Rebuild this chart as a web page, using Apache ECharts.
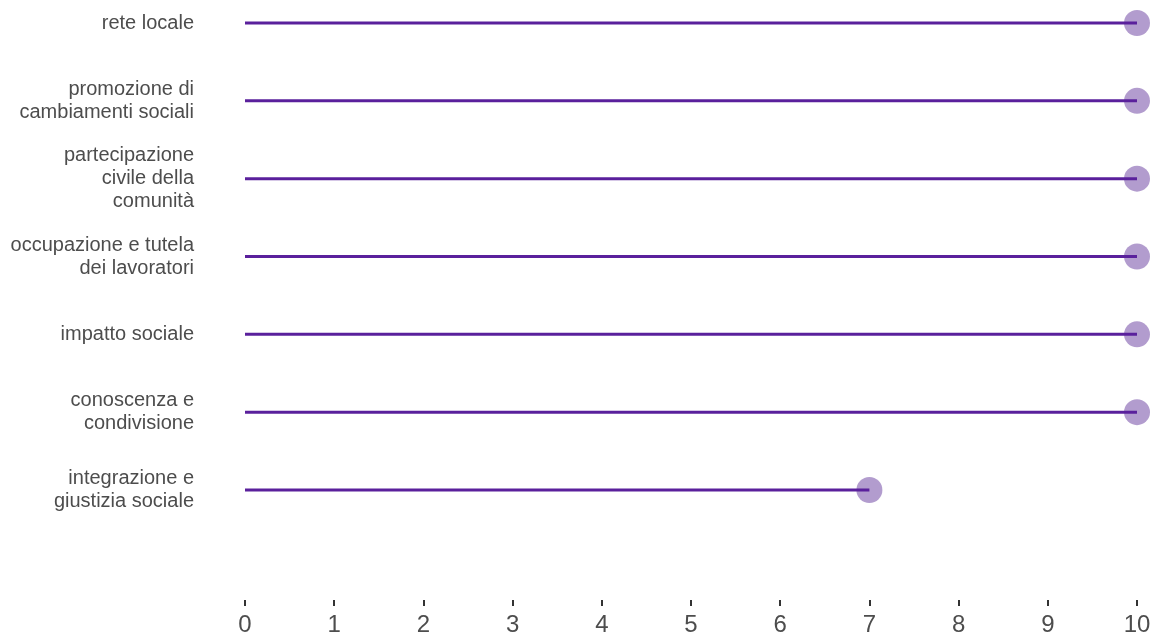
<!DOCTYPE html>
<html>
<head>
<meta charset="utf-8">
<script src="https://cdn.jsdelivr.net/npm/echarts@6/dist/echarts.min.js"></script>
<style>
	html, body { margin: 0; padding: 0; background: #fff; }
	#chart { width: 1154px; height: 633px; }
</style>
</head>
<body>
<div id="chart"></div>
<script>
	// categories, top to bottom
	var categories = [
		'rete locale',
		'promozione di\ncambiamenti sociali',
		'partecipazione\ncivile della\ncomunità',
		'occupazione e tutela\ndei lavoratori',
		'impatto sociale',
		'conoscenza e\ncondivisione',
		'integrazione e\ngiustizia sociale'
	];
	var values = [10, 10, 10, 10, 10, 10, 7];
	var xTicks = [0, 1, 2, 3, 4, 5, 6, 7, 8, 9, 10];

	var myEcharts = echarts.init(document.getElementById('chart'));
	var option = {
		animation: false,
		grid: {
			left: 245,
			right: 17,
			top: 23,
			bottom: 143,
			outerBoundsMode: 'none'
		},
		xAxis: {
			type: 'value',
			min: xTicks[0],
			max: xTicks[xTicks.length - 1],
			interval: 1,
			offset: 110,
			axisLine: { show: false },
			axisTick: {
				show: true,
				length: 6,
				lineStyle: { color: '#333', width: 2 }
			},
			axisLabel: {
				margin: 13,
				fontSize: 24,
				fontFamily: 'Liberation Sans, Arial, sans-serif',
				color: '#4d4d4d'
			},
			splitLine: { show: false }
		},
		yAxis: {
			type: 'category',
			data: categories,
			inverse: true,
			boundaryGap: false,
			axisLine: { show: false },
			axisTick: { show: false },
			splitLine: { show: false },
			axisLabel: {
				margin: 51,
				fontSize: 20,
				lineHeight: 23,
				padding: [10, 0, 0, 0],
				fontFamily: 'Liberation Sans, Arial, sans-serif',
				color: '#4d4d4d',
				align: 'right'
			}
		},
		series: [
			{
				name: 'punti',
				type: 'scatter',
				data: values,
				symbolSize: 26,
				z: 1,
				itemStyle: {
					color: 'rgba(100, 55, 155, 0.62)'
				}
			},
			{
				name: 'linee',
				type: 'bar',
				data: values,
				barWidth: 3,
				z: 2,
				itemStyle: { color: '#5a209c' }
			}
		]
	};
	myEcharts.setOption(option);
</script>
</body>
</html>
